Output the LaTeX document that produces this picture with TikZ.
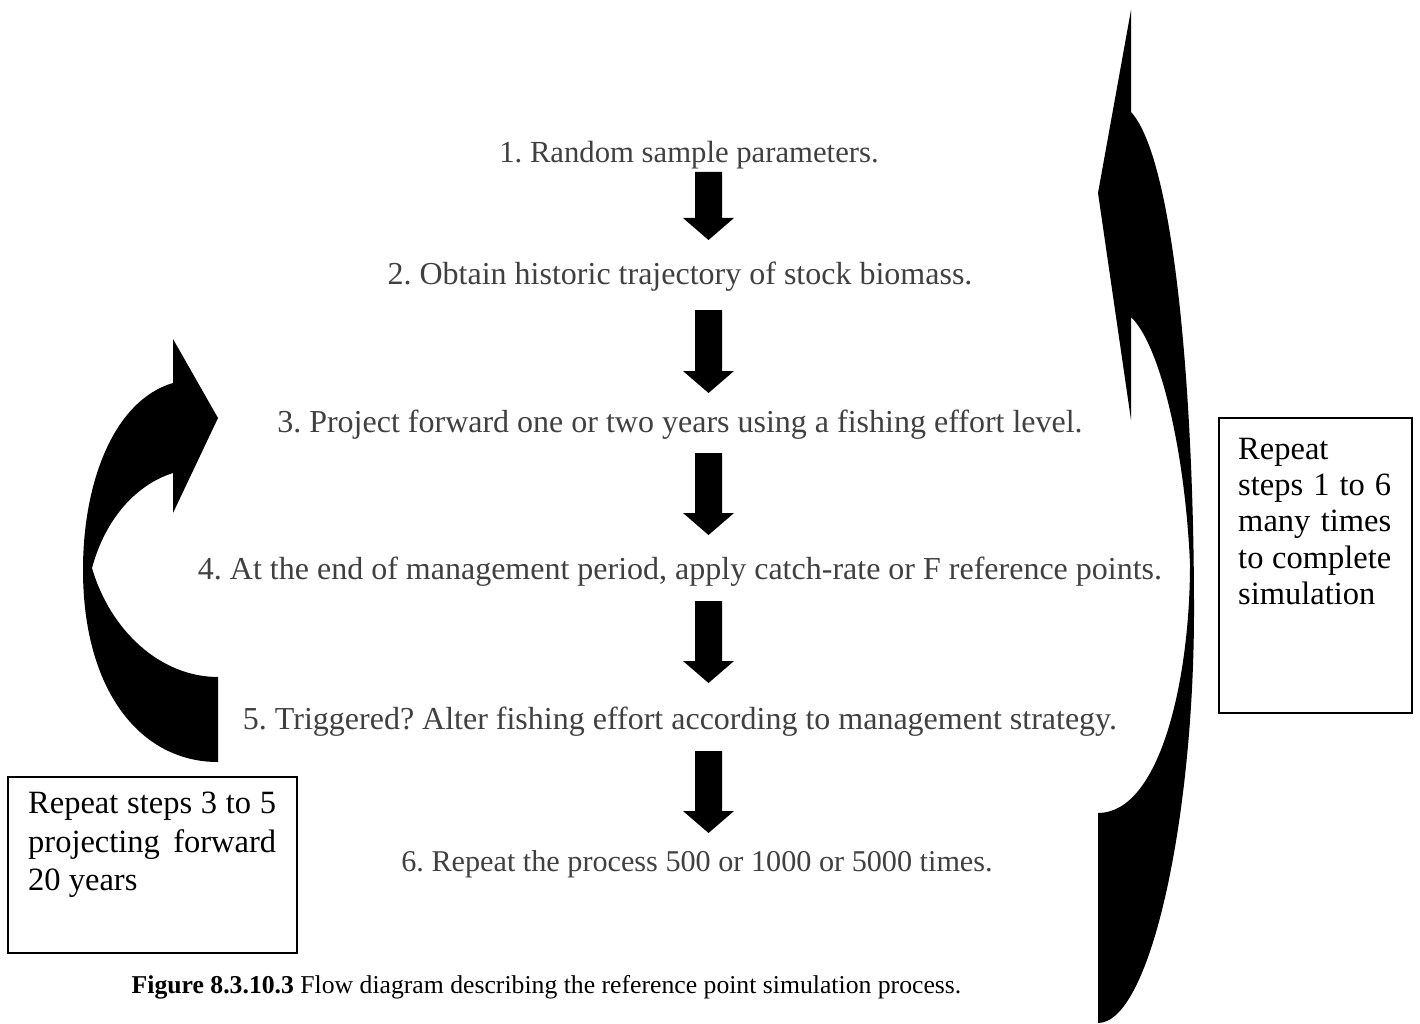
\documentclass[tikz,border=0pt]{standalone}
\usepackage{fontspec}
\setmainfont{Liberation Serif}
\usetikzlibrary{calc}
\frenchspacing
\definecolor{steptxt}{RGB}{64,64,64}
\newcommand\blkarrow[2]{\fill ($(#1)+(-13.5,0)$) -- ($(#2)+(-13.5,-22)$) -- ($(#2)+(-25.5,-22)$) -- (#2) -- ($(#2)+(25.5,-22)$) -- ($(#2)+(13.5,-22)$) -- ($(#1)+(13.5,0)$) -- cycle;}
\begin{document}
\begin{tikzpicture}[x=1pt,y=-1pt,
  steptext/.style={anchor=base, text=steptxt, inner sep=0pt, font=\fontsize{#1}{37}\selectfont\frenchspacing},
  steptext/.default=32,
  boxframe/.style={draw=black, line width=1.5pt, anchor=north west, inner sep=0pt},
  boxtext/.style={anchor=north west, inner sep=0pt, align=justify}]
\useasboundingbox (0,0) rectangle (1420,1024);
% steps
\node[steptext=30.7] (s1) at (689,163) {1. Random sample parameters.};
\node[steptext] (s2) at (680,284) {2. Obtain historic trajectory of stock biomass.};
\node[steptext] (s3) at (680,432) {3. Project forward one or two years using a fishing effort level.};
\node[steptext] (s4) at (680,579) {4. At the end of management period, apply catch-rate or F reference points.};
\node[steptext] (s5) at (680,729) {5. Triggered? Alter fishing effort according to management strategy.};
\node[steptext=30.2] (s6) at (697,871) {6. Repeat the process 500 or 1000 or 5000 times.};
% block arrows
\coordinate (a1t) at (708.5,172); \coordinate (a1b) at (708.5,240);
\coordinate (a2t) at (708.5,310); \coordinate (a2b) at (708.5,393);
\coordinate (a3t) at (708.5,453); \coordinate (a3b) at (708.5,535);
\coordinate (a4t) at (708.5,601); \coordinate (a4b) at (708.5,683);
\coordinate (a5t) at (708.5,751); \coordinate (a5b) at (708.5,833);
\blkarrow{a1t}{a1b}
\blkarrow{a2t}{a2b}
\blkarrow{a3t}{a3b}
\blkarrow{a4t}{a4b}
\blkarrow{a5t}{a5b}
% left curved arrow
\fill (218,762) .. controls (140,762) and (83,690) .. (83,570)
  .. controls (83,480) and (115,400) .. (173,383)
  -- (173,339) -- (218,418) -- (173,513) -- (173,473)
  .. controls (135,485) and (105,520) .. (92,568)
  .. controls (110,630) and (160,677) .. (218,677) -- cycle;
% right curved arrow
\fill (1098,1023) .. controls (1150,1023) and (1194,820) .. (1194,610)
  .. controls (1194,400) and (1175,160) .. (1131,112)
  -- (1131,10) -- (1098,193) -- (1131,420) -- (1131,317)
  .. controls (1160,345) and (1185,450) .. (1190,564)
  .. controls (1190,680) and (1160,813) .. (1098,813) -- cycle;
% boxes
\node[boxframe, minimum width=193, minimum height=295] (rbox) at (1218,417) {};
\node[boxtext, text width=153, font=\fontsize{32.5}{36.2}\selectfont] (rtext) at (1238,438) {Repeat\linebreak steps 1 to 6\linebreak many times\linebreak to complete\linebreak simulation};
\node[boxframe, minimum width=289, minimum height=176] (lbox) at (7,776) {};
\node[boxtext, text width=248, font=\fontsize{32.5}{38.5}\selectfont] (ltext) at (28,792) {Repeat steps 3 to 5\linebreak projecting forward\linebreak 20 years};
% caption
\node[anchor=base, inner sep=0pt, font=\fontsize{25.7}{30}\selectfont] (cap) at (546.5,993) {\textbf{Figure 8.3.10.3} Flow diagram describing the reference point simulation process.};
\end{tikzpicture}
\end{document}
